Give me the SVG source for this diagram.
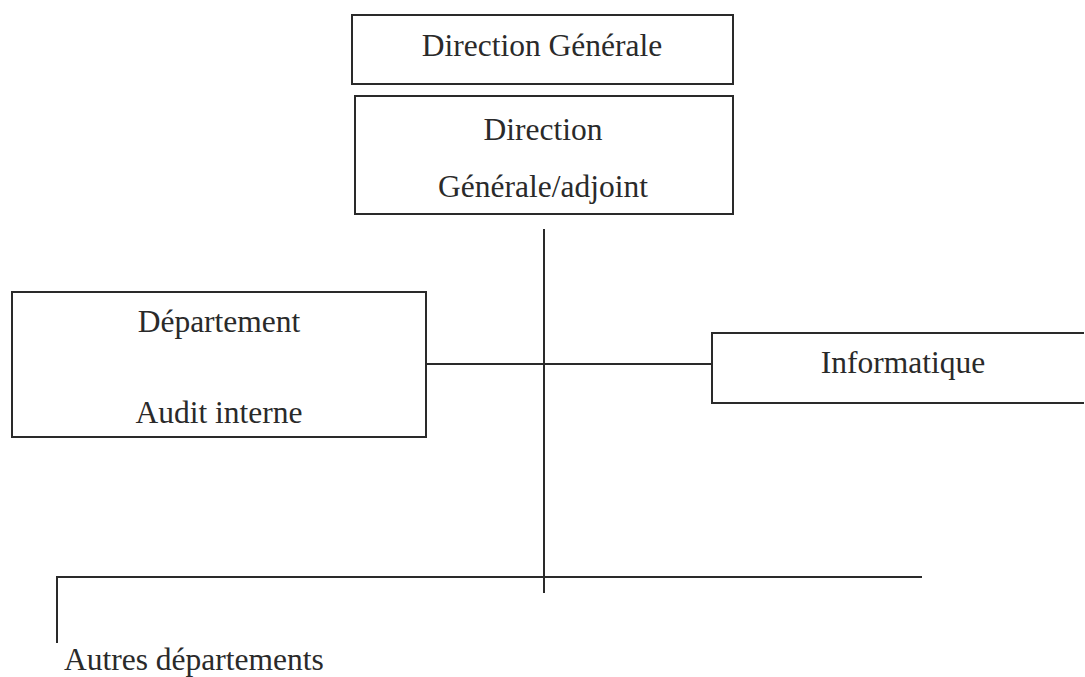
<svg xmlns="http://www.w3.org/2000/svg" width="1085" height="677" viewBox="0 0 1085 677">
<style>
.box{fill:none;stroke:#2a2a2a;stroke-width:2}
.ln{stroke:#2a2a2a;stroke-width:2;fill:none}
text{font-family:'Liberation Serif','DejaVu Serif','Times New Roman',serif;font-size:31.5px;fill:#2a2a2a}
.t{text-anchor:middle}
</style>
<rect width="1085" height="677" fill="#ffffff"/>
<g id="connectors">
<line class="ln" x1="544" y1="229" x2="544" y2="593"/>
<line class="ln" x1="426" y1="364" x2="712" y2="364"/>
<line class="ln" x1="56" y1="577" x2="922" y2="577"/>
<line class="ln" x1="57" y1="576" x2="57" y2="643"/>
</g>
<g id="direction-generale">
<rect class="box" x="352" y="15" width="381" height="69"/>
<text class="t" x="542" y="56">Direction Générale</text>
</g>
<g id="direction-generale-adjoint">
<rect class="box" x="355" y="96" width="378" height="118"/>
<text class="t" x="543" y="140">Direction</text>
<text class="t" x="543" y="197">Générale/adjoint</text>
</g>
<g id="audit-interne">
<rect class="box" x="12" y="292" width="414" height="145"/>
<text class="t" x="219" y="332">Département</text>
<text class="t" x="219" y="423">Audit interne</text>
</g>
<g id="informatique">
<path class="box" d="M1084,333 H712 V403 H1084"/>
<text class="t" x="903" y="373">Informatique</text>
</g>
<g id="autres-departements">
<text x="64" y="670">Autres départements</text>
</g>
</svg>
